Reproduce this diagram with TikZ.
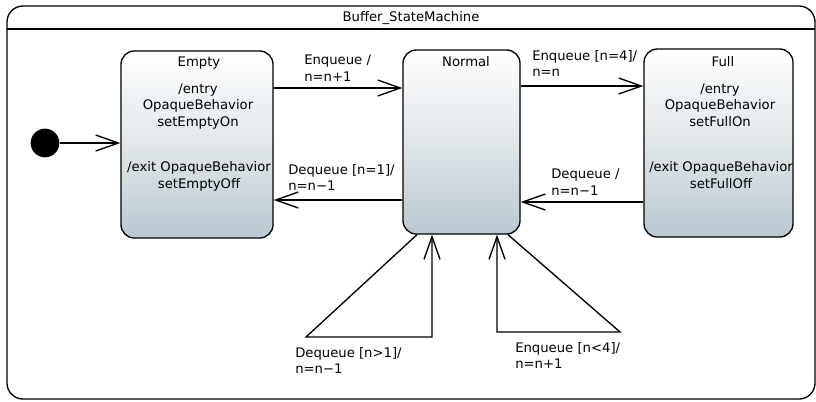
\documentclass[tikz,border=0pt]{standalone}
\usepackage{fontspec}
\setmainfont{DejaVu Sans}
\usetikzlibrary{arrows.meta}
\definecolor{stategray}{RGB}{186,200,208}
\tikzset{
  statebox/.style={draw, rounded corners=10pt, top color=white, bottom color=stategray, middle color=white!55!stategray, line width=1pt, inner sep=0},
  lbl/.style={font=\fontsize{9.9}{12.4}\selectfont, inner sep=0, align=center},
  llbl/.style={font=\fontsize{9.9}{12.2}\selectfont, inner sep=0, align=left, anchor=north west},
  tr/.style={-{Straight Barb[length=17pt,width=12pt,line width=1pt]}, line width=1pt}
}
\begin{document}
\begin{tikzpicture}[x=0.75pt,y=-0.75pt]
\useasboundingbox (0,0) rectangle (816,401);
% frame
\draw[rounded corners=12pt, line width=1pt] (7,6) rectangle (815,399);
\draw[line width=0.8pt] (7,29) -- (815,29);
\node[lbl] (title) at (411,18) {Buffer\_StateMachine};

% states
\node[statebox, minimum width=114pt, minimum height=140.25pt] (empty) at (197,144.5) {};
\node[statebox, minimum width=87.75pt, minimum height=138pt] (normal) at (461.5,142) {};
\node[statebox, minimum width=111.75pt, minimum height=141pt] (full) at (718.5,143) {};

\node[lbl] (emptyT) at (199,63) {Empty};
\node[lbl] (emptyEn) at (198,106.5) {/entry\\OpaqueBehavior\\setEmptyOn};
\node[lbl] (emptyEx) at (199,176.5) {/exit OpaqueBehavior\\setEmptyOff};

\node[lbl] (normalT) at (466,62) {Normal};

\node[lbl] (fullT) at (723,62) {Full};
\node[lbl] (fullEn) at (720,105) {/entry\\OpaqueBehavior\\setFullOn};
\node[lbl] (fullEx) at (721,175) {/exit OpaqueBehavior\\setFullOff};

% initial
\node[circle, fill=black, minimum size=21.5pt, inner sep=0] (init) at (45,143) {};
\draw[tr] (init) -- (empty.west |- init);

% transitions
\draw[tr] (empty.east |- 0,88) -- (normal.west |- 0,88);
\node[llbl] (l1) at (304,55) {Enqueue /\\n=n+1};

\draw[tr] (normal.west |- 0,200) -- (empty.east |- 0,200);
\node[llbl] (l2) at (288,164) {Dequeue [n=1]/\\n=n−1};

\draw[tr] (normal.east |- 0,86) -- (full.west |- 0,86);
\node[llbl] (l3) at (532,50) {Enqueue [n=4]/\\n=n};

\draw[tr] (full.west |- 0,202) -- (normal.east |- 0,202);
\node[llbl] (l4) at (551,169) {Dequeue /\\n=n−1};

% self loops
\coordinate (a1) at (306,337);
\coordinate (a2) at (432,337);
\draw[tr] (normal.south -| 417,0) -- (a1) -- (a2) -- (normal.south -| a2);
\node[llbl] (l5) at (295,347) {Dequeue [n>1]/\\n=n−1};

\coordinate (b1) at (620,332);
\coordinate (b2) at (497,332);
\draw[tr] (normal.south -| 508,0) -- (b1) -- (b2) -- (normal.south -| b2);
\node[llbl] (l6) at (515,342) {Enqueue [n<4]/\\n=n+1};
\end{tikzpicture}
\end{document}
